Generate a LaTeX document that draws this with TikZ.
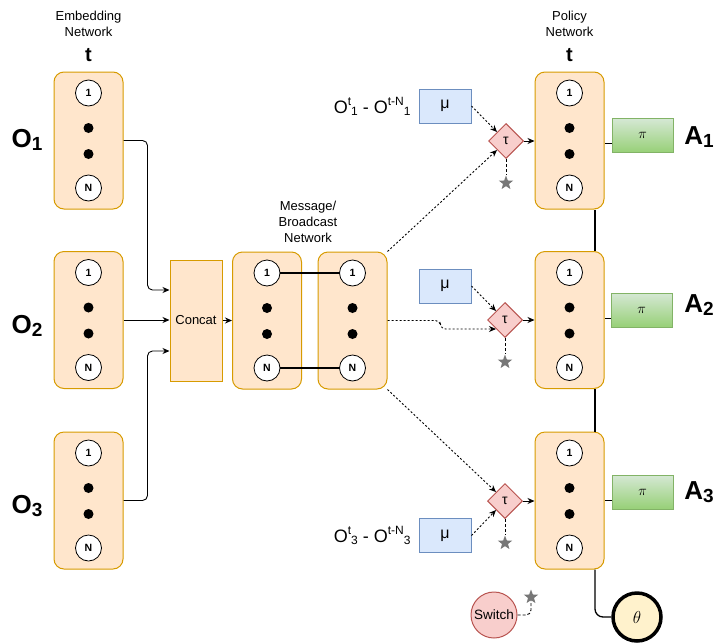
\documentclass[tikz,border=0pt]{standalone}
\usepackage{fontspec}
\setmainfont{Liberation Sans}
\usetikzlibrary{arrows.meta,shapes.geometric}
\definecolor{netfill}{HTML}{FFE6CC}
\definecolor{netline}{HTML}{D79B00}
\definecolor{mufill}{HTML}{DAE8FC}
\definecolor{muline}{HTML}{6C8EBF}
\definecolor{redfill}{HTML}{F8CECC}
\definecolor{redline}{HTML}{B85450}
\definecolor{pitop}{HTML}{D5E8D4}
\definecolor{pibot}{HTML}{97D077}
\definecolor{piline}{HTML}{82B366}
\definecolor{thetafill}{HTML}{FFF2CC}
\definecolor{stargray}{HTML}{777777}
\newcommand{\lsub}[1]{\raisebox{-3pt}{\fontsize{19}{19}\selectfont #1}}
\newcommand{\osup}[1]{\raisebox{8pt}{\fontsize{12}{12}\selectfont #1}}
\newcommand{\osub}[1]{\raisebox{-2pt}{\fontsize{12}{12}\selectfont #1}}
\begin{document}
\begin{tikzpicture}[x=1pt,y=-1pt,
    netbox/.style={draw=netline,fill=netfill,rounded corners=10pt,line width=1pt,
      minimum width=69pt,minimum height=137pt},
    neuron/.style={circle,draw,fill=white,line width=0.8pt,minimum size=26pt,inner sep=0pt,
      font=\fontsize{10.5}{10.5}\selectfont\bfseries},
    ndot/.style={circle,fill=black,minimum size=10pt,inner sep=0pt},
    lbl/.style={align=center,font=\fontsize{13}{16}\selectfont},
    tlbl/.style={font=\fontsize{20}{20}\selectfont\bfseries},
    olbl/.style={font=\fontsize{26}{26}\selectfont\bfseries},
    concatbox/.style={draw=netline,fill=netfill,line width=1pt,minimum width=52pt,
      minimum height=121pt,font=\fontsize{13}{13}\selectfont},
    mubox/.style={draw=muline,fill=mufill,line width=1pt,minimum width=52pt,minimum height=34pt,
      font=\fontsize{16}{16}\selectfont},
    taubox/.style={diamond,draw=redline,fill=redfill,line width=1pt,minimum width=35pt,
      minimum height=35pt,inner sep=0pt,font=\fontsize{14}{14}\selectfont},
    pibox/.style={draw=piline,top color=pitop,bottom color=pibot,line width=1pt,
      minimum width=61pt,minimum height=34pt,font=\fontsize{14}{14}\selectfont},
    starmark/.style={star,star points=5,star point ratio=2.4,fill=stargray,minimum size=15pt,inner sep=0pt},
    swbox/.style={circle,draw=redline,fill=redfill,line width=1pt,minimum size=46pt,inner sep=0pt,
      font=\fontsize{13.5}{13.5}\selectfont},
    thetabox/.style={circle,draw,fill=thetafill,line width=3.5pt,minimum size=48pt,inner sep=0pt,
      font=\fontsize{17}{17}\selectfont},
    arr/.style={-{Stealth[length=7pt,width=6pt]},line width=0.9pt,rounded corners=5pt},
    sig/.style={-{Stealth[length=7pt,width=6pt]},line width=0.9pt,dash pattern=on 2pt off 2pt,
      rounded corners=5pt},
    dashlink/.style={line width=0.9pt,dash pattern=on 3pt off 2pt,rounded corners=5pt},
    link/.style={line width=1.3pt}]
  \useasboundingbox (0,0) rectangle (717,643);
  % titles
  \node[lbl] (embtitle) at (88.5,24) {Embedding\\Network};
  \node[tlbl] (embt) at (88.5,55) {t};
  \node[lbl] (msgtitle) at (308,222) {Message/\\Broadcast\\Network};
  \node[lbl] (poltitle) at (569.5,24) {Policy\\Network};
  \node[tlbl] (polt) at (569.5,55) {t};
  % network columns
  \foreach \n/\x/\y in {e1/88.5/140.5,e2/88.5/320,e3/88.5/500.5,m1/267/320.5,m2/352.5/320.5,
      p1/569.5/140.5,p2/569.5/320,p3/569.5/500.5}{
    \node[netbox] (\n) at (\x,\y) {};
    \node[neuron] (\n-1) at (\x,\y-47.5) {1};
    \node[ndot] at (\x,\y-12.5) {};
    \node[ndot] at (\x,\y+13.5) {};
    \node[neuron] (\n-N) at (\x,\y+47.5) {N};
  }
  \node[olbl] (o1) at (27,140) {O\lsub{1}};
  \node[olbl] (o2) at (27,326) {O\lsub{2}};
  \node[olbl] (o3) at (27,506) {O\lsub{3}};
  \node[concatbox] (concat) at (196,320.5) {Concat};
  % inputs to the policy
  \node[mubox] (mu1) at (445,106) {μ};
  \node[mubox] (mu2) at (445,286) {μ};
  \node[mubox] (mu3) at (445,535.5) {μ};
  \node[anchor=east,font=\fontsize{18}{18}\selectfont] (d1) at (414,106)
    {O\osup{t}\osub{1} - O\osup{t-N}\osub{1}};
  \node[anchor=east,font=\fontsize{18}{18}\selectfont] (d3) at (414,535.5)
    {O\osup{t}\osub{3} - O\osup{t-N}\osub{3}};
  \node[taubox] (t1) at (506,141) {τ};
  \node[taubox] (t2) at (505,320) {τ};
  \node[taubox] (t3) at (505,501) {τ};
  \node[starmark] (s1) at (506,183) {};
  \node[starmark] (s2) at (505,362) {};
  \node[starmark] (s3) at (505,543) {};
  % outputs
  \node[pibox] (pi1) at (642.5,135.5) {$\pi$};
  \node[pibox] (pi2) at (641.5,310) {$\pi$};
  \node[pibox] (pi3) at (642.5,492) {$\pi$};
  \node[olbl] (a1) at (699,137) {A\lsub{1}};
  \node[olbl] (a2) at (699,305) {A\lsub{2}};
  \node[olbl] (a3) at (699,492) {A\lsub{3}};
  \node[swbox] (sw) at (494,615) {Switch};
  \node[starmark] (s4) at (531,597) {};
  \node[thetabox] (theta) at (637,617) {$\theta$};
  % connectors
  \draw[arr] (e1.east) -- ++(24,0) |- ([yshift=30.5pt]concat.west);
  \draw[arr] (e2.east) -- (e2.east -| concat.west);
  \draw[arr] (e3.east) -- ++(24,0) |- ([yshift=-30.5pt]concat.west);
  \draw[arr] (concat.east) -- (m1.west);
  \draw[link] (m1-1) -- (m2-1);
  \draw[link] (m1-N) -- (m2-N);
  \draw[sig] (mu1.east) -- (t1.north west);
  \draw[sig] (m2.north east) -- (t1.south west);
  \draw[sig] (mu2.east) -- (t2.north west);
  \draw[sig] (m2.east) -- ++(53,0) |- (t2.south west);
  \draw[sig] (m2.south east) -- (t3.north west);
  \draw[sig] (mu3.east) -- (t3.south west);
  \draw[arr] (t1.east) -- (t1.east -| p1.west);
  \draw[arr] (t2.east) -- (t2.east -| p2.west);
  \draw[arr] (t3.east) -- (t3.east -| p3.west);
  \draw[dashlink] (t1.south) -- (s1.north);
  \draw[dashlink] (t2.south) -- (s2.north);
  \draw[dashlink] (t3.south) -- (s3.north);
  \draw[line width=1pt] ([yshift=-8pt]pi1.west) -- ([yshift=-8pt]pi1.west -| p1.east);
  \draw[line width=1pt] ([yshift=-8pt]pi2.west) -- ([yshift=-8pt]pi2.west -| p2.east);
  \draw[line width=1pt] ([yshift=-8pt]pi3.west) -- ([yshift=-8pt]pi3.west -| p3.east);
  \draw[link] ([xshift=25.5pt]p1.south) -- ([xshift=25.5pt]p2.north);
  \draw[link] ([xshift=25.5pt]p2.south) -- ([xshift=25.5pt]p3.north);
  \draw[link,rounded corners=8pt] ([xshift=25.5pt]p3.south) |- (theta.west);
  \draw[dashlink] (sw.east) -| (s4.south);
\end{tikzpicture}
\end{document}
